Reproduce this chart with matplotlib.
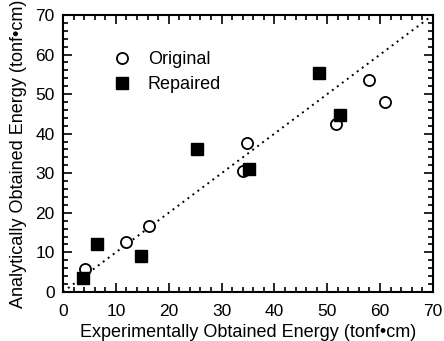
import matplotlib
matplotlib.use("Agg")
import matplotlib.pyplot as plt
from matplotlib.ticker import MultipleLocator

plt.rcParams['font.family'] = ['Liberation Sans', 'DejaVu Sans']

orig_x = [4.2, 11.9, 16.3, 34.0, 34.9, 51.7, 58.0, 60.9]
orig_y = [5.9, 12.6, 16.7, 30.6, 37.7, 42.5, 53.6, 48.1]
rep_x = [3.7, 6.5, 14.7, 25.4, 35.1, 48.5, 52.5]
rep_y = [3.6, 12.2, 9.0, 36.0, 31.0, 55.4, 44.6]
line_x = [0, 70]
line_y = [0, 70]

fig = plt.figure(figsize=(4.44, 3.41), dpi=100)
ax = fig.add_axes([0.142, 0.144, 0.833, 0.812])

ax.plot(line_x, line_y, linestyle=(0, (1, 2.2)), color='black', linewidth=1.4, zorder=1)
ax.plot(orig_x, orig_y, 'o', markersize=8, markerfacecolor='white', markeredgecolor='black',
        markeredgewidth=1.3, linestyle='none', label='Original', zorder=2)
ax.plot(rep_x, rep_y, 's', markersize=8, markerfacecolor='black', markeredgecolor='black',
        linestyle='none', label='Repaired', zorder=3)

ax.set_xlim(0, 70)
ax.set_ylim(0, 70)
ax.xaxis.set_major_locator(MultipleLocator(10))
ax.yaxis.set_major_locator(MultipleLocator(10))
ax.xaxis.set_minor_locator(MultipleLocator(2))
ax.yaxis.set_minor_locator(MultipleLocator(2))
ax.tick_params(which='both', direction='in', top=True, right=True, width=1.2, labelsize=12.5)
ax.tick_params(which='major', length=6.5)
ax.tick_params(axis='x', which='major', pad=9)
ax.tick_params(axis='y', which='major', pad=6)
ax.tick_params(which='minor', length=3.5)
for s in ax.spines.values():
    s.set_linewidth(1.5)

ax.set_xlabel('Experimentally Obtained Energy (tonf•cm)', fontsize=13, labelpad=3)
ax.set_ylabel('Analytically Obtained Energy (tonf•cm)', fontsize=13, labelpad=6)

leg = ax.legend(loc='upper left', bbox_to_anchor=(0.09, 0.895), frameon=False, fontsize=13,
                handletextpad=0.45, labelspacing=0.45, borderaxespad=0)

fig.savefig('out.png', dpi=100)
